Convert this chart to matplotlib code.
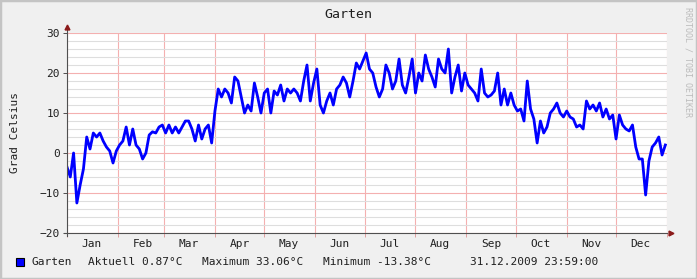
import matplotlib
matplotlib.use('Agg')
import matplotlib.pyplot as plt
import matplotlib.dates as mdates
from matplotlib.patches import Rectangle
import pandas as pd

# Temperatur Garten 2009, ein Wert alle 2 Tage
temps = [
    -3.5, -6, 0, -12.5, -8, -4, 4, 1, 5, 4, 5, 3, 1.5, 0.5, -2.5, 0.5, 2, 3, 6.5, 2,
    6, 2, 1, -1.5, 0, 4.5, 5.3, 5, 6.5, 7, 5, 7, 5, 6.5, 5, 6.5, 8, 8, 6, 3,
    7, 3.5, 6, 7, 2.5, 10.5, 16, 14, 16, 15, 12.5, 19, 18, 14, 10, 12, 10.5, 17.5, 14, 10,
    15, 16, 10, 15.5, 14.5, 17, 13, 16, 15, 16, 15, 13, 18, 22, 13, 17.5, 21, 12, 10, 13,
    15, 12, 16, 17, 19, 17.5, 14, 18, 22.5, 21, 23, 25, 21, 20, 16.5, 14, 16, 22, 20, 16,
    18, 23.5, 17, 15, 19, 23.5, 15, 20, 18, 24.5, 21, 19, 16.5, 23.5, 21, 20, 26, 15, 19, 22,
    15.5, 20, 17, 16, 15, 13, 21, 15, 14, 14.5, 15.5, 20, 12, 16, 12, 15, 12, 10.5, 11, 8,
    18, 11, 8.5, 2.5, 8, 5, 6.5, 10, 11, 12.5, 10, 9, 10.5, 9, 8.5, 6.5, 7, 6, 13, 11,
    12, 10.5, 12.5, 9, 11, 8.5, 9.5, 3.5, 9.5, 7, 6, 5.5, 7, 1.5, -1.5, -1.5, -10.5, -2, 1.5, 2.5,
    4, -0.5, 2,
]
days = pd.date_range('2009-01-01', periods=len(temps), freq='2D')

title = 'Garten'
ylabel = 'Grad Celsius'
legend_parts = ['Garten', 'Aktuell 0.87°C', 'Maximum 33.06°C', 'Minimum -13.38°C',
                '31.12.2009 23:59:00']

plt.rcParams['font.family'] = 'DejaVu Sans Mono'

W, H = 697, 279
fig = plt.figure(figsize=(W / 100, H / 100), dpi=100, facecolor='#f0f0f0')
ax = fig.add_axes([67 / W, 46 / H, 600 / W, 200 / H])
ax.set_facecolor('white')

ax.plot(days, temps, color='#0000ff', lw=2.0, zorder=3)

ax.set_xlim(pd.Timestamp('2009-01-01'), pd.Timestamp('2010-01-01'))
ax.set_ylim(-20, 30)
ax.set_yticks(range(-20, 31, 10))
ax.set_yticks(range(-20, 31, 2), minor=True)

ax.xaxis.set_major_locator(mdates.MonthLocator())
ax.xaxis.set_major_formatter(plt.NullFormatter())
ax.xaxis.set_minor_locator(mdates.MonthLocator(bymonthday=16))
ax.xaxis.set_minor_formatter(mdates.DateFormatter('%b'))

ax.grid(which='minor', axis='y', color='#dedede', lw=0.8, zorder=1)
ax.grid(which='major', axis='y', color='#f4b0b0', lw=0.8, zorder=2)
ax.grid(which='major', axis='x', color='#f4b0b0', lw=0.8, zorder=2)

ax.tick_params(axis='x', which='major', length=3, color='#e0a0a0', width=0.7)
ax.tick_params(axis='x', which='minor', length=0, pad=4, labelsize=8, labelcolor='#202020')
ax.tick_params(axis='y', which='major', length=3, color='#505050', width=0.7, pad=2,
               labelsize=8, labelcolor='#202020')
ax.tick_params(axis='y', which='minor', length=0)

for s in ax.spines.values():
    s.set_visible(False)
# Achsen mit Pfeilen
ax.plot([0, 0], [-0.015, 1.02], transform=ax.transAxes, color='#505050', lw=0.8,
        clip_on=False, zorder=4)
ax.plot([-0.005, 1.0], [0, 0], transform=ax.transAxes, color='#505050', lw=0.8,
        clip_on=False, zorder=4)
ax.plot([0], [1.03], marker='^', ms=3.5, color='#8b1a1a', transform=ax.transAxes,
        clip_on=False, zorder=5)
ax.plot([1.007], [0], marker='>', ms=3.5, color='#8b1a1a', transform=ax.transAxes,
        clip_on=False, zorder=5)

fig.text(0.5, (H - 15) / H, title, ha='center', va='center', fontsize=9.5, color='#202020')
fig.text(15 / W, (H - 133) / H, ylabel, rotation=90, ha='center', va='center',
         fontsize=8, color='#202020')
fig.text(688 / W, (H - 62) / H, 'RRDTOOL / TOBI OETIKER', rotation=270, ha='center',
         va='center', fontsize=6, color='#bcbcbc')

# Legende
fig.patches.append(Rectangle((16 / W, (H - 266) / H), 8 / W, 8 / H, transform=fig.transFigure,
                             facecolor='#0000ff', edgecolor='black', lw=0.8))
for x, txt in zip([31, 88, 202, 323, 470], legend_parts):
    fig.text(x / W, (H - 262) / H, txt, ha='left', va='center', fontsize=8, color='#202020')

# Rahmen
fig.patches.append(Rectangle((0, 0), 1, 1, transform=fig.transFigure, fill=False,
                             edgecolor='#c4c4c4', lw=2.5))

fig.savefig('out.png', dpi=100, facecolor=fig.get_facecolor())
